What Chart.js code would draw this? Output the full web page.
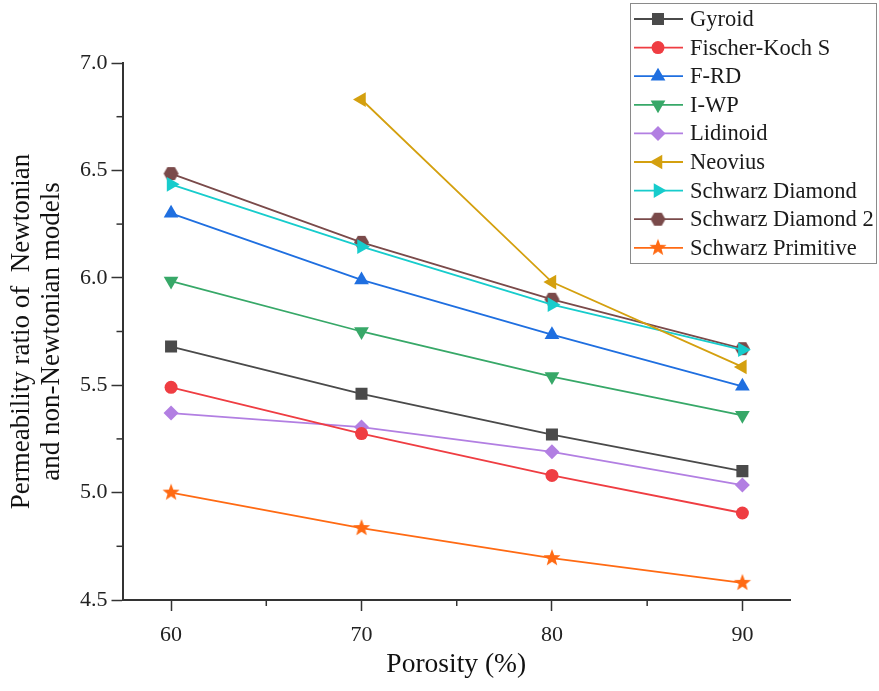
<!DOCTYPE html>
<html>
<head>
<meta charset="utf-8">
<script src="https://cdn.jsdelivr.net/npm/chart.js@4/dist/chart.umd.min.js"></script>
<style>
html,body{margin:0;padding:0;background:#fff}
#c{display:block}
</style>
</head>
<body>
<canvas id="c" width="879" height="691"></canvas>
<script>
// Porosity (%) and permeability ratio per TPMS structure
const porosity = [60, 70, 80, 90];
const gyroid = [5.68, 5.46, 5.27, 5.10];
const fischerKochS = [5.49, 5.275, 5.08, 4.905];
const fRD = [6.30, 5.99, 5.735, 5.495];
const iWP = [5.985, 5.75, 5.54, 5.36];
const lidinoid = [5.37, 5.305, 5.19, 5.035];
const neovius = [null, 6.83, 5.98, 5.585];
const schwarzDiamond = [6.435, 6.145, 5.875, 5.665];
const schwarzDiamond2 = [6.485, 6.165, 5.90, 5.67];
const schwarzPrimitive = [5.0, 4.835, 4.695, 4.58];

const seriesNames = ['Gyroid', 'Fischer-Koch S', 'F-RD', 'I-WP', 'Lidinoid', 'Neovius',
  'Schwarz Diamond', 'Schwarz Diamond 2', 'Schwarz Primitive'];
const seriesValues = [gyroid, fischerKochS, fRD, iWP, lidinoid, neovius,
  schwarzDiamond, schwarzDiamond2, schwarzPrimitive];

const xTicks = [60, 70, 80, 90];
const yTicks = [4.5, 5.0, 5.5, 6.0, 6.5, 7.0];

const SERIF = "'Liberation Serif', 'Times New Roman', serif";

// Filled marker images for shapes the library does not provide
function makeMarker(r, color, drawPath) {
  const c = document.createElement('canvas');
  c.width = c.height = Math.ceil(2 * r + 2);
  const g = c.getContext('2d');
  g.translate(c.width / 2, c.height / 2);
  g.beginPath();
  drawPath(g, r);
  g.closePath();
  g.fillStyle = color;
  g.fill();
  return c;
}
function hexPath(g, r) {
  for (let i = 0; i < 6; i++) {
    const a = Math.PI / 3 * i;
    g.lineTo(r * Math.cos(a), r * Math.sin(a));
  }
}
function starPath(g, r) {
  for (let i = 0; i < 10; i++) {
    const a = -Math.PI / 2 + Math.PI / 5 * i;
    const rr = i % 2 === 0 ? r : r * 0.42;
    g.lineTo(rr * Math.cos(a), rr * Math.sin(a));
  }
}

const colors = ['#4a4a4a', '#ef3d42', '#1f6fe0', '#37a868', '#b27fe2', '#d4a00f', '#17cccc', '#7a4a4a', '#ff6a13'];
const styles = [
  {pointStyle: 'rect', rotation: 0, radius: 8.5},
  {pointStyle: 'circle', rotation: 0, radius: 6.5},
  {pointStyle: 'triangle', rotation: 0, radius: 8.5},
  {pointStyle: 'triangle', rotation: 180, radius: 8.5},
  {pointStyle: 'rectRot', rotation: 0, radius: 7.5},
  {pointStyle: 'triangle', rotation: 270, radius: 8.5},
  {pointStyle: 'triangle', rotation: 90, radius: 8.5},
  {pointStyle: makeMarker(7.5, colors[7], hexPath), rotation: 0, radius: 7.5},
  {pointStyle: makeMarker(9, colors[8], starPath), rotation: 0, radius: 9}
];

const datasets = seriesNames.map((name, i) => ({
  label: name,
  data: porosity.map((p, j) => ({x: p, y: seriesValues[i][j]})),
  borderColor: colors[i],
  backgroundColor: colors[i],
  pointBackgroundColor: colors[i],
  pointBorderColor: colors[i],
  pointBorderWidth: 0,
  borderWidth: 1.8,
  pointStyle: styles[i].pointStyle,
  pointRotation: styles[i].rotation,
  pointRadius: styles[i].radius,
  tension: 0
}));

// Half-length ticks between the labelled ones
const minorTicks = {
  id: 'minorTicks',
  afterDraw(chart) {
    const {ctx, scales: {x, y}, chartArea: a} = chart;
    ctx.save();
    ctx.strokeStyle = '#333';
    ctx.lineWidth = 1.5;
    for (let i = 0; i < yTicks.length - 1; i++) {
      const p = y.getPixelForValue((yTicks[i] + yTicks[i + 1]) / 2);
      ctx.beginPath(); ctx.moveTo(a.left - 6, p); ctx.lineTo(a.left, p); ctx.stroke();
    }
    for (let i = 0; i < xTicks.length - 1; i++) {
      const p = x.getPixelForValue((xTicks[i] + xTicks[i + 1]) / 2);
      ctx.beginPath(); ctx.moveTo(p, a.bottom); ctx.lineTo(p, a.bottom + 6); ctx.stroke();
    }
    ctx.restore();
  }
};

// Boxed legend in the upper right corner
const boxLegend = {
  id: 'boxLegend',
  afterDraw(chart) {
    const ctx = chart.ctx;
    const bx = 630.5, by = 3.5, bw = 246, bh = 260;
    const rowY0 = 19, rowH = 28.6;
    ctx.save();
    ctx.fillStyle = '#fff';
    ctx.fillRect(bx, by, bw, bh);
    ctx.strokeStyle = '#8a8a8a';
    ctx.lineWidth = 1;
    ctx.strokeRect(bx, by, bw, bh);
    chart.data.datasets.forEach((ds, i) => {
      const yy = rowY0 + i * rowH;
      ctx.strokeStyle = ds.borderColor;
      ctx.lineWidth = ds.borderWidth;
      ctx.beginPath(); ctx.moveTo(634, yy); ctx.lineTo(683, yy); ctx.stroke();
      ctx.fillStyle = ds.pointBackgroundColor;
      ctx.strokeStyle = ds.pointBorderColor;
      Chart.helpers.drawPoint(ctx, {
        pointStyle: ds.pointStyle, rotation: ds.pointRotation,
        radius: ds.pointRadius, borderWidth: 0
      }, 658, yy);
      ctx.fillStyle = '#1a1a1a';
      ctx.font = '22.5px ' + SERIF;
      ctx.textBaseline = 'middle';
      ctx.textAlign = 'left';
      ctx.fillText(ds.label, 690, yy + 1);
    });
    ctx.restore();
  }
};

new Chart(document.getElementById('c'), {
  type: 'line',
  data: {datasets},
  plugins: [minorTicks, boxLegend],
  options: {
    responsive: false,
    animation: false,
    devicePixelRatio: 1,
    layout: {padding: {top: 63, right: 89, left: 0, bottom: 0}},
    plugins: {legend: {display: false}, tooltip: {enabled: false}},
    scales: {
      x: {
        type: 'linear',
        min: 57.45,
        max: 92.5,
        afterBuildTicks: s => { s.ticks = xTicks.map(v => ({value: v})); },
        afterFit: s => { s.height = 91; },
        ticks: {color: '#222', font: {family: SERIF, size: 22}, padding: 11},
        grid: {drawOnChartArea: false, tickLength: 11, tickColor: '#333', tickWidth: 1.5},
        border: {color: '#333', width: 2},
        title: {display: true, text: 'Porosity (%)', color: '#111',
          font: {family: SERIF, size: 27.5, lineHeight: 1.1}, padding: {bottom: 11, top: 0}}
      },
      y: {
        min: 4.5,
        max: 7.0,
        afterBuildTicks: s => { s.ticks = yTicks.map(v => ({value: v})); },
        afterFit: s => { s.width = 122.5; },
        ticks: {color: '#222', font: {family: SERIF, size: 22}, padding: 4,
          callback: v => v.toFixed(1)},
        grid: {drawOnChartArea: false, tickLength: 11, tickColor: '#333', tickWidth: 1.5},
        border: {color: '#333', width: 2},
        title: {display: true, text: ['Permeability ratio of  Newtonian', 'and non-Newtonian models'],
          color: '#111', font: {family: SERIF, size: 27, lineHeight: 1.1}, padding: {top: 7, bottom: 0}}
      }
    }
  }
});
</script>
</body>
</html>
